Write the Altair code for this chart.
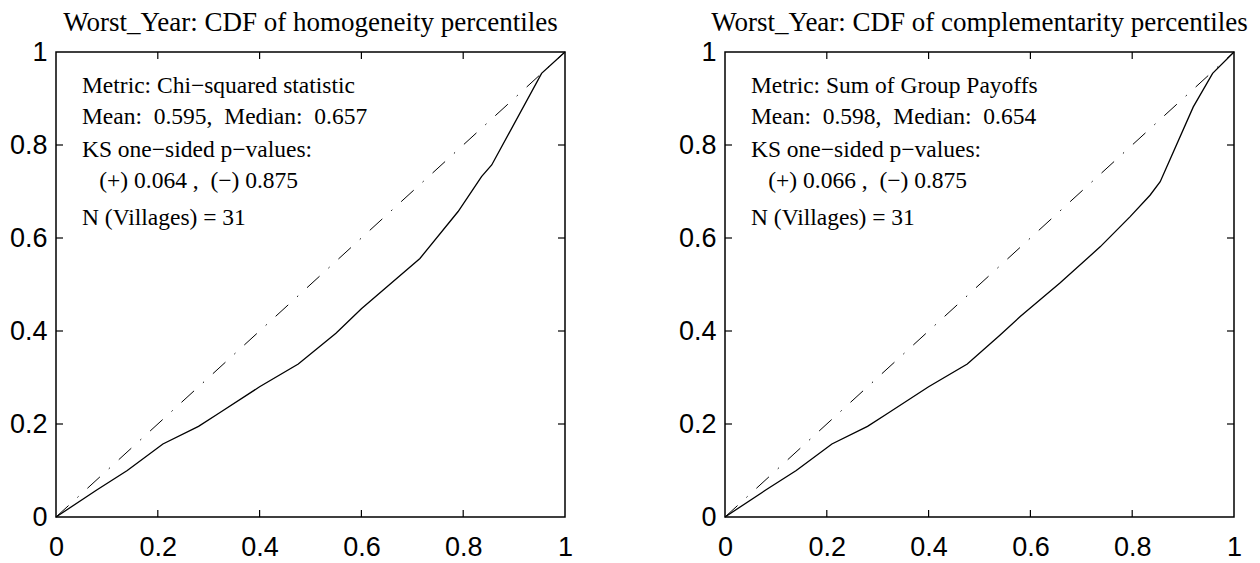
import altair as alt
import pandas as pd

# ---- data ----
left_x = [0, 0.08, 0.14, 0.21, 0.28, 0.32, 0.40, 0.476, 0.55, 0.60, 0.715, 0.79, 0.836, 0.856, 0.954, 1.0]
left_y = [0, 0.058, 0.10, 0.157, 0.195, 0.223, 0.28, 0.329, 0.395, 0.448, 0.556, 0.657, 0.732, 0.757, 0.954, 1.0]
right_x = [0, 0.08, 0.14, 0.21, 0.28, 0.32, 0.40, 0.476, 0.54, 0.58, 0.658, 0.737, 0.796, 0.835, 0.855, 0.868, 0.92, 0.958, 1.0]
right_y = [0, 0.058, 0.10, 0.157, 0.195, 0.223, 0.28, 0.329, 0.391, 0.431, 0.503, 0.581, 0.646, 0.692, 0.721, 0.753, 0.882, 0.954, 1.0]
diag_x = [0, 1]
diag_y = [0, 1]
axis_vals = [0, 0.2, 0.4, 0.6, 0.8, 1]
tick_vals = [0.2, 0.4, 0.6, 0.8]
titles = ["Worst_Year: CDF of homogeneity percentiles",
          "Worst_Year: CDF of complementarity percentiles"]
S = "\u00a0"
notes_left = ["Metric: Chi\u2212squared statistic",
              f"Mean:{S} 0.595,{S} Median:{S} 0.657",
              "KS one\u2212sided p\u2212values:",
              f"(+) 0.064 ,{S} (\u2212) 0.875",
              "N (Villages) = 31"]
notes_right = ["Metric: Sum of Group Payoffs",
               f"Mean:{S} 0.598,{S} Median:{S} 0.654",
               "KS one\u2212sided p\u2212values:",
               f"(+) 0.066 ,{S} (\u2212) 0.875",
               "N (Villages) = 31"]

# ---- layout constants ----
W, H = 509, 465
TICK = 7
note_x = [0.051, 0.051, 0.051, 0.085, 0.051]
note_y = [0.912, 0.845, 0.774, 0.708, 0.628]

SANS = "Liberation Sans, Arial, sans-serif"
SERIF = "Liberation Serif, Times New Roman, serif"

xs = alt.Scale(domain=[0, 1], nice=False, zero=False)
ys = alt.Scale(domain=[0, 1], nice=False, zero=False)
XAX = alt.Axis(values=axis_vals, format="~g", labelPadding=17)
YAX = alt.Axis(values=axis_vals, format="~g", labelPadding=9)


def panel(px, py, title, notes):
    curve = pd.DataFrame({"x": px, "y": py})
    diag = pd.DataFrame({"x": diag_x, "y": diag_y})
    ticks = pd.DataFrame({"v": tick_vals})
    txt = pd.DataFrame({"x": note_x, "y": note_y, "t": notes})

    line = alt.Chart(curve).mark_line(color="black", strokeWidth=1.3).encode(
        x=alt.X("x:Q", scale=xs, title=None, axis=XAX),
        y=alt.Y("y:Q", scale=ys, title=None, axis=YAX),
    )
    dline = alt.Chart(diag).mark_line(color="black", strokeWidth=1,
                                      strokeDash=[17, 12, 1.5, 12]).encode(
        x=alt.X("x:Q", scale=xs, title=None, axis=XAX),
        y=alt.Y("y:Q", scale=ys, title=None, axis=YAX))
    tb = alt.Chart(ticks).mark_rule(color="black", strokeWidth=1.2).encode(
        x=alt.X("v:Q", scale=xs, title=None, axis=XAX),
        y=alt.value(H), y2=alt.value(H - TICK))
    tt = alt.Chart(ticks).mark_rule(color="black", strokeWidth=1.2).encode(
        x=alt.X("v:Q", scale=xs, title=None, axis=XAX),
        y=alt.value(0), y2=alt.value(TICK))
    tl = alt.Chart(ticks).mark_rule(color="black", strokeWidth=1.2).encode(
        y=alt.Y("v:Q", scale=ys, title=None, axis=YAX),
        x=alt.value(0), x2=alt.value(TICK))
    tr = alt.Chart(ticks).mark_rule(color="black", strokeWidth=1.2).encode(
        y=alt.Y("v:Q", scale=ys, title=None, axis=YAX),
        x=alt.value(W), x2=alt.value(W - TICK))
    text = alt.Chart(txt).mark_text(align="left", baseline="alphabetic", font=SERIF,
                                    fontSize=23.5, color="black").encode(
        x=alt.X("x:Q", scale=xs, title=None, axis=XAX),
        y=alt.Y("y:Q", scale=ys, title=None, axis=YAX), text="t:N")
    return alt.layer(dline, line, tb, tt, tl, tr, text).properties(
        width=W, height=H,
        title=alt.TitleParams(title, font=SERIF, fontSize=27, fontWeight="normal",
                              color="black", anchor="middle", offset=1))


chart = alt.hconcat(
    panel(left_x, left_y, titles[0], notes_left),
    panel(right_x, right_y, titles[1], notes_right),
    spacing=103,
).properties(
    padding={"left": 0, "top": 0, "right": 0, "bottom": 0},
    background="white",
).configure_view(
    stroke="black", strokeWidth=1.5
).configure_axis(
    tickSize=0, domain=False, grid=False, labelFont=SANS, labelFontSize=27,
    labelColor="black", labelFlush=False, ticks=False
)

chart.save("out.html", embed_options={"renderer": "svg", "actions": False})
